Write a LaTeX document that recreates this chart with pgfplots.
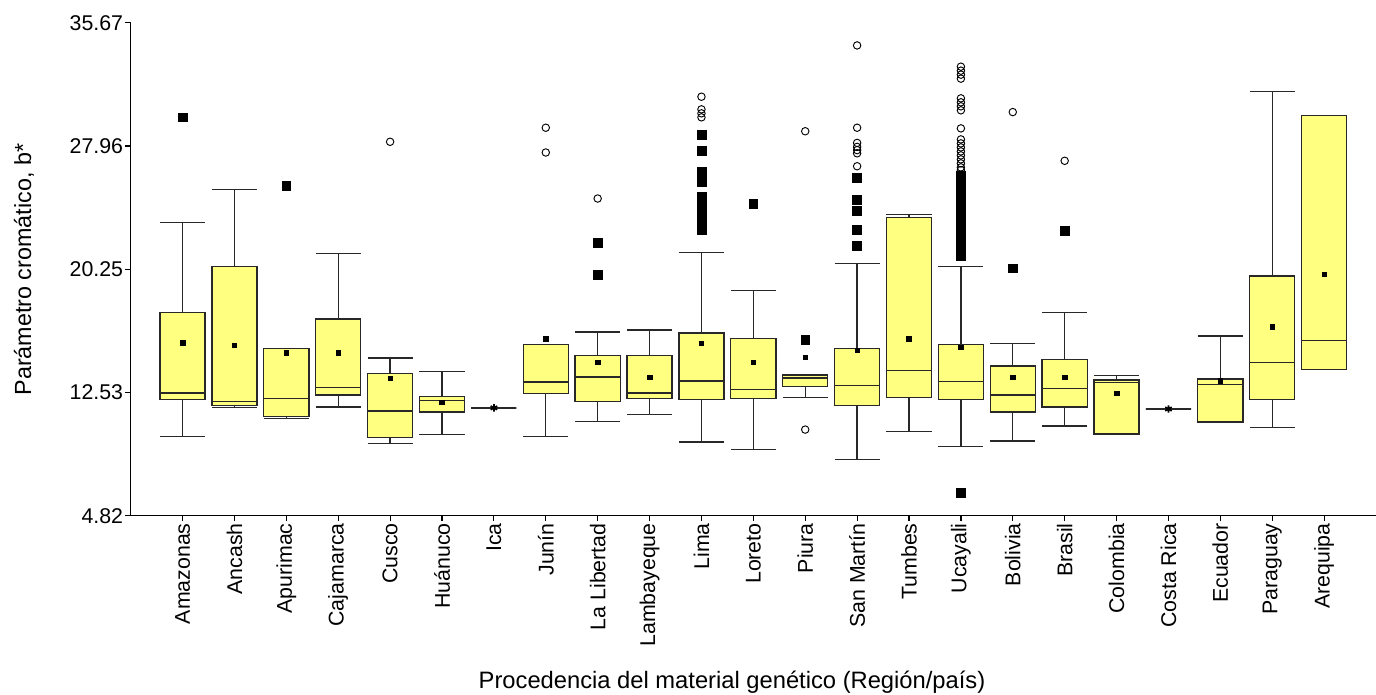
\documentclass[border=0pt]{standalone}
\usepackage{fontspec}
\setmainfont{Liberation Sans}
\usepackage{pgfplots}
\pgfplotsset{compat=1.18}
\usepgfplotslibrary{statistics}
\definecolor{boxyellow}{RGB}{255,255,128}
\definecolor{edge}{RGB}{40,40,40}

\begin{document}
\begin{tikzpicture}
\useasboundingbox (-98pt,-133.7pt) rectangle (934pt,386.8pt);
\begin{axis}[
  at={(0,0)}, anchor=south west,
  scale only axis, width=934pt, height=369.75pt,
  xmin=-1, xmax=23, ymin=4.82, ymax=35.67,
  axis x line*=bottom, axis y line*=left,
  axis line style={line width=0.9pt, black},
  xtick={0,...,22},
  xticklabels={Amazonas,Ancash,Apurimac,Cajamarca,Cusco,Huánuco,Ica,Junín,La Libertad,Lambayeque,Lima,Loreto,Piura,San Martín,Tumbes,Ucayali,Bolivia,Brasil,Colombia,Costa Rica,Ecuador,Paraguay,Arequipa},
  ytick={4.82,12.53,20.25,27.96,35.67},
  yticklabels={4.82,12.53,20.25,27.96,35.67},
  tick align=outside, major tick length=4pt,
  tick style={line width=0.9pt, black},
  x tick label style={rotate=90, anchor=east, font=\fontsize{16}{16}\selectfont, inner sep=1.5pt},
  y tick label style={font=\fontsize{16}{16}\selectfont, inner sep=1.5pt},
  clip=false,
  boxplot/draw direction=y,
  boxplot/box extend=0.87,
  boxplot/whisker extend=0.87,
  bx/.style={draw=edge, line width=1pt, fill=boxyellow, solid, mark=none},
]
% five-number summaries, one box per origin
\addplot[bx, boxplot prepared={draw position=0, lower whisker=9.76, lower quartile=12.10, median=12.51, upper quartile=17.52, upper whisker=23.15}] coordinates {};
\addplot[bx, boxplot prepared={draw position=1, lower whisker=11.59, lower quartile=11.70, median=11.97, upper quartile=20.42, upper whisker=25.23}] coordinates {};
\addplot[bx, boxplot prepared={draw position=2, lower whisker=10.90, lower quartile=11.03, median=12.17, upper quartile=15.30, upper whisker=15.30}] coordinates {};
\addplot[bx, boxplot prepared={draw position=3, lower whisker=11.63, lower quartile=12.38, median=12.83, upper quartile=17.13, upper whisker=21.21}] coordinates {};
\addplot[bx, boxplot prepared={draw position=4, lower whisker=9.35, lower quartile=9.70, median=11.37, upper quartile=13.71, upper whisker=14.70}] coordinates {};
\addplot[bx, boxplot prepared={draw position=5, lower whisker=9.89, lower quartile=11.31, median=12.04, upper quartile=12.30, upper whisker=13.84}] coordinates {};
\addplot[bx, boxplot prepared={draw position=6, lower whisker=11.57, lower quartile=11.57, median=11.57, upper quartile=11.57, upper whisker=11.57}] coordinates {};
\addplot[bx, boxplot prepared={draw position=7, lower whisker=9.76, lower quartile=12.45, median=13.18, upper quartile=15.52, upper whisker=15.52}] coordinates {};
\addplot[bx, boxplot prepared={draw position=8, lower whisker=10.71, lower quartile=11.97, median=13.50, upper quartile=14.85, upper whisker=16.31}] coordinates {};
\addplot[bx, boxplot prepared={draw position=9, lower whisker=11.16, lower quartile=12.15, median=12.51, upper quartile=14.85, upper whisker=16.44}] coordinates {};
\addplot[bx, boxplot prepared={draw position=10, lower whisker=9.44, lower quartile=12.10, median=13.26, upper quartile=16.25, upper whisker=21.28}] coordinates {};
\addplot[bx, boxplot prepared={draw position=11, lower whisker=8.97, lower quartile=12.17, median=12.70, upper quartile=15.91, upper whisker=18.93}] coordinates {};
\addplot[bx, boxplot prepared={draw position=12, lower whisker=12.23, lower quartile=12.92, median=13.44, upper quartile=13.63, upper whisker=13.63}] coordinates {};
\addplot[bx, boxplot prepared={draw position=13, lower whisker=8.34, lower quartile=11.70, median=12.96, upper quartile=15.30, upper whisker=20.61}] coordinates {};
\addplot[bx, boxplot prepared={draw position=14, lower whisker=10.11, lower quartile=12.23, median=13.91, upper quartile=23.49, upper whisker=23.68}] coordinates {};
\addplot[bx, boxplot prepared={draw position=15, lower whisker=9.16, lower quartile=12.10, median=13.24, upper quartile=15.52, upper whisker=20.42}] coordinates {};
\addplot[bx, boxplot prepared={draw position=16, lower whisker=9.50, lower quartile=11.31, median=12.38, upper quartile=14.19, upper whisker=15.58}] coordinates {};
\addplot[bx, boxplot prepared={draw position=17, lower whisker=10.43, lower quartile=11.63, median=12.77, upper quartile=14.60, upper whisker=17.54}] coordinates {};
\addplot[bx, boxplot prepared={draw position=18, lower whisker=9.93, lower quartile=9.93, median=13.16, upper quartile=13.31, upper whisker=13.59}] coordinates {};
\addplot[bx, boxplot prepared={draw position=19, lower whisker=11.50, lower quartile=11.50, median=11.50, upper quartile=11.50, upper whisker=11.50}] coordinates {};
\addplot[bx, boxplot prepared={draw position=20, lower whisker=10.69, lower quartile=10.69, median=13.05, upper quartile=13.37, upper whisker=16.06}] coordinates {};
\addplot[bx, boxplot prepared={draw position=21, lower whisker=10.36, lower quartile=12.10, median=14.40, upper quartile=19.82, upper whisker=31.35}] coordinates {};
\addplot[bx, boxplot prepared={draw position=22, lower whisker=13.97, lower quartile=13.97, median=15.80, upper quartile=29.87, upper whisker=29.87}] coordinates {};

% moderate outliers (filled squares)
\addplot[only marks, mark=square*, mark size=3.3pt, black] coordinates {
 (0,29.76) (2,25.47) (8,21.92) (8,19.90)
 (10,28.64) (10,27.67) (10,26.34) (10,26.00) (10,25.69) (10,24.81) (10,24.50) (10,24.20) (10,23.90) (10,23.60) (10,23.30) (10,22.71)
 (11,24.33) (12,15.82)
 (13,25.96) (13,24.61) (13,23.88) (13,22.72) (13,21.73)
 (15,26.10) (15,25.90) (15,25.70) (15,25.50) (15,25.30) (15,25.10) (15,24.90) (15,24.70) (15,24.50) (15,24.30) (15,24.10) (15,23.90) (15,23.70)
 (15,23.50) (15,23.30) (15,23.10) (15,22.90) (15,22.70) (15,22.50) (15,22.30) (15,22.10) (15,21.90) (15,21.70) (15,21.50) (15,21.30) (15,21.10)
 (15,6.24)
 (16,20.31) (17,22.67)
};
% extreme outliers (open circles)
\addplot[only marks, mark=o, mark size=2.8pt, mark options={fill=white, draw=black, line width=0.7pt}] coordinates {
 (4,28.22) (7,29.10) (7,27.55) (8,24.67)
 (10,31.04) (10,30.25) (10,30.00) (10,29.75)
 (12,28.88) (12,10.21)
 (13,34.25) (13,29.10) (13,28.15) (13,27.90) (13,27.70) (13,27.50) (13,26.69)
 (15,32.92) (15,32.67) (15,32.42) (15,32.17) (15,30.94) (15,30.69) (15,30.44) (15,30.19) (15,29.06)
 (15,28.37) (15,28.12) (15,27.87) (15,27.62) (15,27.37) (15,27.12) (15,26.87) (15,26.62) (15,26.45)
 (16,30.08) (17,27.03)
};
% means
\addplot[only marks, mark=square*, mark size=1.7pt, black] coordinates {
 (0,15.63) (1,15.48) (2,15.02) (3,15.02) (4,13.41) (5,11.93) (7,15.88) (8,14.42) (9,13.48)
 (10,15.60) (11,14.42) (12,14.75) (13,15.18) (14,15.88) (15,15.37) (16,13.48) (17,13.48)
 (18,12.47) (20,13.26) (21,16.64) (22,19.92)
};
\addplot[only marks, mark=asterisk, mark size=2.8pt, black, line width=1.3pt] coordinates {(6,11.57) (19,11.50)};
\end{axis}
\node[rotate=90, font=\fontsize{17.5}{17.5}\selectfont] at (-80pt,184.6pt) {Parámetro cromático, b*};
\node[font=\fontsize{17.8}{17.8}\selectfont] at (451pt,-124.7pt) {Procedencia del material genético (Región/país)};
\end{tikzpicture}
\end{document}
